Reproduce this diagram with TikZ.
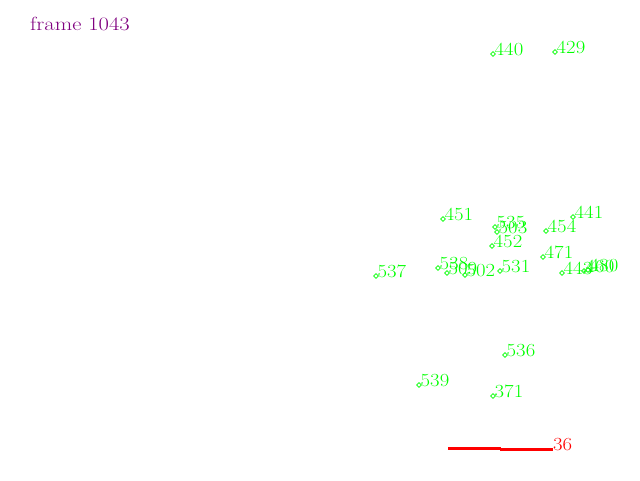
\documentclass[tikz,border=0pt]{standalone}
\usetikzlibrary{shapes.geometric}
\definecolor{lblgreen}{RGB}{0,255,0}
\definecolor{lblpurple}{RGB}{128,0,128}
\definecolor{lblred}{RGB}{255,0,0}
\tikzset{
  lbl/.style={text=lblgreen, font=\fontsize{18.5}{18.5}\selectfont, inner sep=0pt, anchor=base west, xscale=1.12},
  mk/.style={draw=lblgreen, diamond, minimum size=5pt, inner sep=0pt, line width=0.8pt},
  redline/.style={draw=lblred, line width=3pt},
}
\newcommand{\ptlabel}[4]{%
  \node[mk] (m#1) at (#2,#3) {};
  \node[lbl] (t#1) at (#2+1.5,#3+1) {#4};
}
\begin{document}
\begin{tikzpicture}[x=1pt,y=-1pt]
\useasboundingbox[fill=white] (0,0) rectangle (640,480);
\node[text=lblpurple, font=\fontsize{19}{19}\selectfont, inner sep=0pt, anchor=base west, xscale=1.19] (frame) at (30,30) {frame 1043};
\ptlabel{440}{493}{54}{440}
\ptlabel{429}{555}{52}{429}
\ptlabel{451}{443}{219}{451}
\ptlabel{441}{573}{217}{441}
\ptlabel{535}{495}{227}{535}
\ptlabel{503}{497}{232}{503}
\ptlabel{454}{546}{231}{454}
\ptlabel{452}{492}{246}{452}
\ptlabel{471}{543}{257}{471}
\ptlabel{531}{500}{271}{531}
\ptlabel{443}{562}{273}{443}
\ptlabel{460}{584}{271}{460}
\ptlabel{480}{588}{270}{480}
\ptlabel{538}{438}{268}{538}
\ptlabel{509}{447}{273}{509}
\ptlabel{502}{465}{275}{502}
\ptlabel{537}{376}{276}{537}
\ptlabel{536}{505}{355}{536}
\ptlabel{539}{419}{385}{539}
\ptlabel{371}{493}{396}{371}
\coordinate (r1) at (448,448);
\coordinate (r2) at (501,448);
\coordinate (r3) at (500,449);
\coordinate (r4) at (553,449);
\draw[redline] (r1) -- (r2);
\draw[redline] (r3) -- (r4);
\node[text=lblred, font=\fontsize{18.5}{18.5}\selectfont, inner sep=0pt, anchor=base west, xscale=1.12] (t36) at (553,450) {36};
\end{tikzpicture}
\end{document}
